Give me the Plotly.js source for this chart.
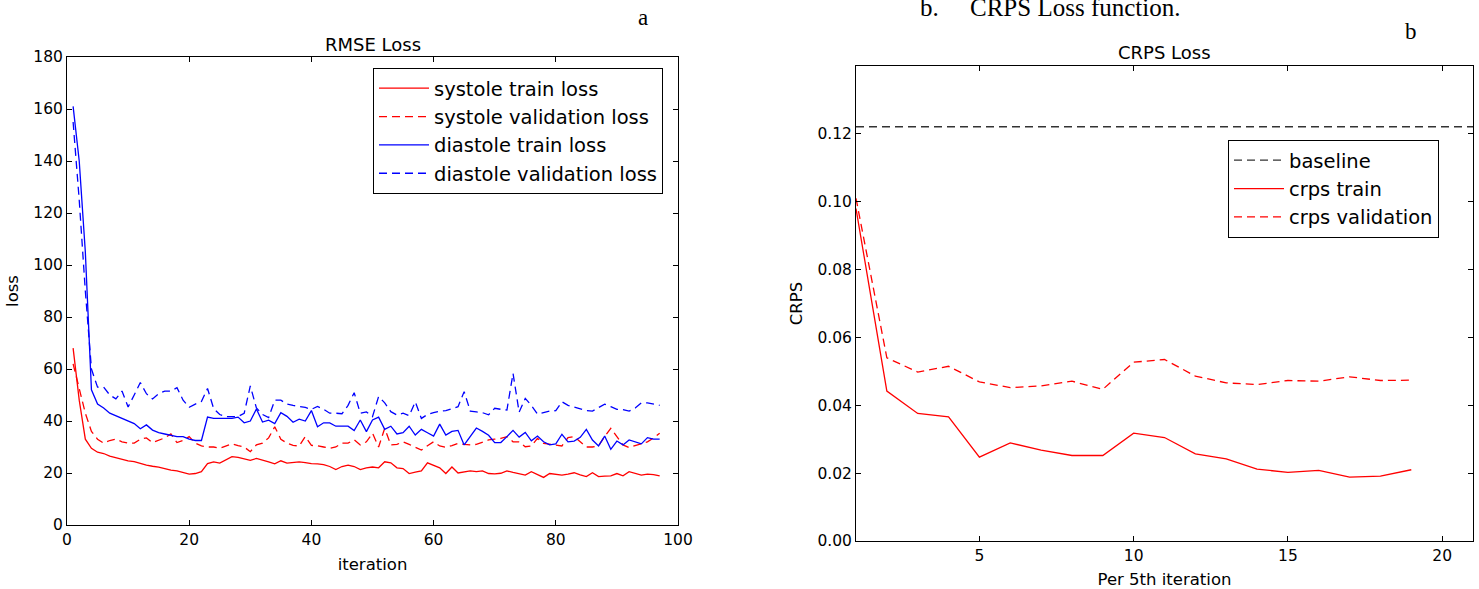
<!DOCTYPE html>
<html>
<head>
<meta charset="utf-8">
<script src="https://cdn.plot.ly/plotly-3.0.1.min.js"></script>
<style>
html,body{margin:0;padding:0;background:#fff;}
#chart{width:1479px;height:589px;}
</style>
</head>
<body>
<div id="chart"></div>
<script>
// ---- RMSE Loss (panel a) ----
const iterations = Array.from({length: 97}, (_, i) => i + 1);
const systoleTrain = [68, 48, 33, 29.5, 28, 27.5, 26.5, 25.8, 25.2, 24.7,
  24.4, 23.6, 23, 22.6, 22.3, 21.7, 21.1, 20.8, 20.3, 19.6,
  19.8, 20.5, 23.6, 24.3, 23.8, 25, 26.3, 26, 25.4, 24.9,
  25.6, 25, 24.3, 23.5, 24.7, 23.8, 24, 24.3, 24, 23.6,
  23.5, 23.2, 22.5, 21.3, 22.5, 23, 22.5, 21.3, 22, 22.3,
  22, 24.3, 23.9, 22, 21.7, 19.8, 20.3, 20.8, 23.9, 23,
  22, 19.8, 22.3, 20, 20.5, 20.8, 20.5, 20.8, 19.8, 19.7,
  19.9, 20.8, 20.2, 19.6, 19.2, 20.5, 19.5, 18.3, 19.8, 19.5,
  19.2, 19.6, 20.1, 19.3, 18.6, 20.1, 18.6, 18.8, 18.9, 19.8,
  18.9, 20.5, 19.8, 19.2, 19.6, 19.4, 18.9];
const systoleVal = [62, 52, 43, 36, 33, 31.5, 32.5, 33, 32, 31.5,
  31.5, 33, 33.5, 31.7, 32.5, 33.5, 35, 31.7, 32.5, 34,
  31.5, 30.4, 30, 30, 29.5, 30.5, 31.2, 30.5, 30, 28.2,
  30.8, 31.5, 33.5, 37.8, 33, 31.5, 30.6, 30.4, 34, 30.6,
  30.5, 30, 29.5, 30, 31.5, 31.5, 32.8, 30.8, 32, 35.3,
  30, 37.2, 30.8, 31, 32, 31, 30, 28.8, 30.5, 32,
  30.4, 29.9, 30.5, 31.4, 31, 30.8, 31, 32, 32.7, 33,
  33.3, 34, 32, 32, 30.1, 30.4, 33.3, 31.4, 31, 30.8,
  30.4, 33.6, 34, 32, 30, 30, 30.5, 34, 37.2, 34,
  30.8, 29.8, 30.6, 31.4, 32, 33.5, 35.3];
const diastoleTrain = [161, 140, 105, 52, 46.5, 45, 43, 42, 41, 40,
  39, 37, 38.5, 36.5, 35.5, 35, 34.5, 34, 34, 33,
  32.5, 32.5, 41.5, 41, 41, 41, 41, 41.5, 39.3, 40,
  44.6, 39.6, 40.3, 39, 43.2, 41.8, 39.5, 40.7, 40, 44,
  37.8, 39.3, 39.3, 38, 38, 38, 36.3, 40.4, 35.9, 40.4,
  41.5, 36.8, 38, 35, 35.5, 38, 34.6, 36.8, 35.5, 34.2,
  38.8, 34.6, 36, 36.4, 30.8, 34.2, 37.3, 36, 34.5, 31.7,
  31.7, 34, 36.4, 33.8, 35.6, 32.4, 34.2, 32, 30.8, 31.2,
  34.9, 32, 32.3, 33.7, 36.8, 32.7, 30.4, 34.2, 29.1, 32.3,
  30.8, 32.7, 32, 31.2, 33.6, 33, 33];
const diastoleVal = [155, 125, 90, 60, 53, 53, 50, 48.5, 51.5, 45.4,
  50, 54.8, 50.5, 48.5, 50.5, 51.5, 51.5, 52.8, 48, 45.3,
  46.5, 47.5, 52.5, 44.8, 42.5, 41.7, 41.7, 41.7, 43, 53.5,
  45, 42.5, 41.3, 48, 48, 46.5, 46, 45.6, 45.2, 44.5,
  45.6, 44.5, 43, 43, 42.8, 46, 50.9, 43, 43.5, 41.7,
  49.4, 47, 43.6, 42.3, 43, 42, 47.4, 41, 42.5, 43.2,
  43.8, 44, 44.7, 45.5, 51.3, 43.8, 43.5, 43.2, 42.4, 44.9,
  44.5, 44.2, 58.3, 43.4, 48.7, 46, 42.7, 43.2, 43.8, 44,
  47.4, 46, 45.3, 44.5, 44, 43.8, 45, 46.5, 45.5, 44.5,
  44.4, 43.8, 45, 47, 47, 46.5, 46];

// ---- CRPS Loss (panel b) ----
const steps = [1, 2, 3, 4, 5, 6, 7, 8, 9, 10, 11, 12, 13, 14, 15, 16, 17, 18, 19];
const crpsTrain = [0.098, 0.0442, 0.0376, 0.0366, 0.0247, 0.0289, 0.0268, 0.0252, 0.0252, 0.0318,
  0.0305, 0.0257, 0.0242, 0.0212, 0.0202, 0.0208, 0.0188, 0.0191, 0.021];
const crpsVal = [0.101, 0.054, 0.0498, 0.0515, 0.0469, 0.0452, 0.0457, 0.0471, 0.0447, 0.0527,
  0.0535, 0.0486, 0.0466, 0.0461, 0.0473, 0.0471, 0.0484, 0.0473, 0.0474];
const baselineX = [1, 21];
const baselineValue = 0.1221;

const leftTicks = [0, 20, 40, 60, 80, 100];
const leftYTicks = [0, 20, 40, 60, 80, 100, 120, 140, 160, 180];
const rightXTicks = [5, 10, 15, 20];
const rightYTicks = [0, 0.02, 0.04, 0.06, 0.08, 0.10, 0.12];

const FONT = 'DejaVu Sans, sans-serif';
const DASH = '8px,5px';

const traces = [
  {x: iterations, y: systoleTrain, name: 'systole train loss', type: 'scatter', mode: 'lines',
   line: {color: '#ff0000', width: 1.3}, xaxis: 'x', yaxis: 'y', legend: 'legend'},
  {x: iterations, y: systoleVal, name: 'systole validation loss', type: 'scatter', mode: 'lines',
   line: {color: '#ff0000', width: 1.3, dash: DASH}, xaxis: 'x', yaxis: 'y', legend: 'legend'},
  {x: iterations, y: diastoleTrain, name: 'diastole train loss', type: 'scatter', mode: 'lines',
   line: {color: '#0000ff', width: 1.3}, xaxis: 'x', yaxis: 'y', legend: 'legend'},
  {x: iterations, y: diastoleVal, name: 'diastole validation loss', type: 'scatter', mode: 'lines',
   line: {color: '#0000ff', width: 1.3, dash: DASH}, xaxis: 'x', yaxis: 'y', legend: 'legend'},
  {x: baselineX, y: [baselineValue, baselineValue], name: 'baseline', type: 'scatter', mode: 'lines',
   line: {color: '#333333', width: 1.3, dash: DASH}, xaxis: 'x2', yaxis: 'y2', legend: 'legend2'},
  {x: steps, y: crpsTrain, name: 'crps train', type: 'scatter', mode: 'lines',
   line: {color: '#ff0000', width: 1.3}, xaxis: 'x2', yaxis: 'y2', legend: 'legend2'},
  {x: steps, y: crpsVal, name: 'crps validation', type: 'scatter', mode: 'lines',
   line: {color: '#ff0000', width: 1.3, dash: DASH}, xaxis: 'x2', yaxis: 'y2', legend: 'legend2'}
];

const W = 1479, H = 589;
const axisCommon = {
  showgrid: false, zeroline: false, showline: true, linecolor: '#000', linewidth: 1,
  mirror: 'ticks', ticks: 'inside', ticklen: 5, tickwidth: 1, tickcolor: '#000',
  tickfont: {family: FONT, size: 15.5, color: '#000'}, fixedrange: true
};

const layout = {
  width: W, height: H,
  margin: {l: 0, r: 0, t: 0, b: 0},
  paper_bgcolor: '#fff', plot_bgcolor: '#fff',
  showlegend: true,
  font: {family: FONT, color: '#000'},
  xaxis: Object.assign({}, axisCommon, {
    domain: [67 / W, 678 / W], range: [0, 100], tickvals: leftTicks, anchor: 'y',
    title: {text: 'iteration', font: {family: FONT, size: 16.5}, standoff: 10}
  }),
  yaxis: Object.assign({}, axisCommon, {
    domain: [1 - 525 / H, 1 - 57 / H], range: [0, 180], tickvals: leftYTicks, anchor: 'x',
    title: {text: 'loss', font: {family: FONT, size: 16.5}, standoff: 10}
  }),
  xaxis2: Object.assign({}, axisCommon, {
    domain: [856 / W, 1473 / W], range: [1, 21], tickvals: rightXTicks, anchor: 'y2',
    title: {text: 'Per 5th iteration', font: {family: FONT, size: 16.5}, standoff: 10}
  }),
  yaxis2: Object.assign({}, axisCommon, {
    domain: [1 - 541 / H, 1 - 66 / H], range: [0, 0.14], tickvals: rightYTicks, tickformat: '.2f', anchor: 'x2',
    title: {text: 'CRPS', font: {family: FONT, size: 16.5}, standoff: 10}
  }),
  legend: {
    x: 373 / W, y: 1 - 68 / H, xanchor: 'left', yanchor: 'top',
    bordercolor: '#000', borderwidth: 1, bgcolor: '#fff', itemwidth: 50,
    font: {family: FONT, size: 19.5, color: '#000'}, tracegroupgap: 0
  },
  legend2: {
    x: 1228 / W, y: 1 - 140 / H, xanchor: 'left', yanchor: 'top',
    bordercolor: '#000', borderwidth: 1, bgcolor: '#fff', itemwidth: 50,
    font: {family: FONT, size: 19.5, color: '#000'}, tracegroupgap: 0
  },
  annotations: [
    {text: 'RMSE Loss', xref: 'paper', yref: 'paper', x: 372.5 / W, y: 1 - 45 / H,
     xanchor: 'center', yanchor: 'middle', showarrow: false, font: {family: FONT, size: 18, color: '#000'}},
    {text: 'CRPS Loss', xref: 'paper', yref: 'paper', x: 1164.5 / W, y: 1 - 53 / H,
     xanchor: 'center', yanchor: 'middle', showarrow: false, font: {family: FONT, size: 18, color: '#000'}},
    {text: 'a', xref: 'paper', yref: 'paper', x: 643 / W, y: 1 - 17 / H,
     xanchor: 'center', yanchor: 'middle', showarrow: false, font: {family: 'Liberation Serif, serif', size: 23, color: '#000'}},
    {text: 'b', xref: 'paper', yref: 'paper', x: 1411 / W, y: 1 - 32 / H,
     xanchor: 'center', yanchor: 'middle', showarrow: false, font: {family: 'Liberation Serif, serif', size: 23, color: '#000'}},
    {text: 'b.&nbsp;&nbsp;&nbsp;&nbsp;&nbsp;CRPS Loss function.', xref: 'paper', yref: 'paper', x: 918 / W, y: 1 - 7 / H,
     xanchor: 'left', yanchor: 'middle', showarrow: false, font: {family: 'Liberation Serif, serif', size: 25, color: '#000'}}
  ]
};

Plotly.newPlot('chart', traces, layout, {staticPlot: true, displayModeBar: false});
</script>
</body>
</html>
